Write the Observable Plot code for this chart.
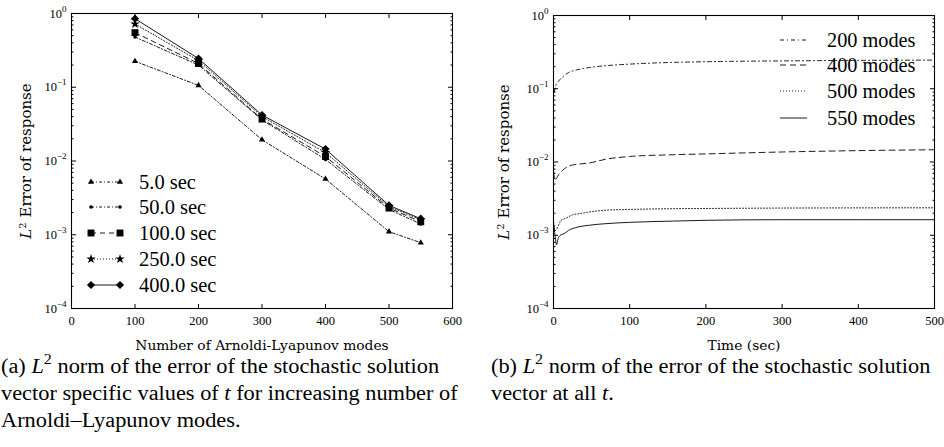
<!DOCTYPE html>
<html><head><meta charset="utf-8">
<script src="https://cdn.jsdelivr.net/npm/d3@7"></script>
<script src="https://cdn.jsdelivr.net/npm/@observablehq/plot@0.6"></script>
<style>
body{margin:0;background:#fff;}
#wrap{position:relative;width:944px;height:447px;overflow:hidden;background:#fff;}
.panel{position:absolute;top:0;}
.row{position:absolute;display:flex;align-items:center;white-space:nowrap;font-family:"Liberation Serif",serif;color:#000;height:24px;}
.cap{position:absolute;font-family:"Liberation Serif",serif;font-size:20.5px;line-height:20px;height:20px;color:#000;white-space:nowrap;transform:scaleX(1.09);transform-origin:left top;}
.cap sup{font-size:0.72em;position:relative;top:-0.1em;line-height:0;vertical-align:super;}
</style></head><body>
<div id="wrap">
  <div id="left" class="panel" style="left:0"></div>
  <div id="right" class="panel" style="left:472px"></div>
  <div id="legA"></div>
  <div id="legB"></div>
  <div class="cap" style="left:1px;top:356px">(a) <i>L</i><sup>2</sup> norm of the error of the stochastic solution</div>
  <div class="cap" style="left:1px;top:383px">vector specific values of <i>t</i> for increasing number of</div>
  <div class="cap" style="left:1px;top:410px">Arnoldi–Lyapunov modes.</div>
  <div class="cap" style="left:491px;top:356px">(b) <i>L</i><sup>2</sup> norm of the error of the stochastic solution</div>
  <div class="cap" style="left:491px;top:383px">vector at all <i>t</i>.</div>
</div>
<script>
// ---------- data: panel (a) ----------
const modes = [100, 200, 300, 400, 500, 550];
const seriesA = ["5.0 sec", "50.0 sec", "100.0 sec", "250.0 sec", "400.0 sec"];
const err5 = [0.225, 0.106, 0.0194, 0.0057, 0.0011, 0.00078];
const err50 = [0.48, 0.20, 0.036, 0.0105, 0.0022, 0.0014];
const err100 = [0.55, 0.21, 0.037, 0.0115, 0.0023, 0.0015];
const err250 = [0.72, 0.23, 0.040, 0.013, 0.0024, 0.0016];
const err400 = [0.85, 0.245, 0.042, 0.0145, 0.0025, 0.00165];
const xTicksA = [0, 100, 200, 300, 400, 500, 600];

// ---------- data: panel (b) ----------
const seriesB = ["200 modes", "400 modes", "500 modes", "550 modes"];
const t200 = [1, 3, 7, 12, 20, 30, 47, 70, 100, 150, 200, 300, 400, 500];
const v200 = [0.09, 0.11, 0.128, 0.145, 0.167, 0.18, 0.195, 0.207, 0.217, 0.228, 0.234, 0.24, 0.244, 0.246];
const t400 = [0, 2, 4, 7, 12, 18, 25, 35, 47, 60, 70, 85, 100, 150, 200, 300, 400, 500];
const v400 = [0.0075, 0.0057, 0.006, 0.0068, 0.0077, 0.0086, 0.0091, 0.0094, 0.0097, 0.0104, 0.011, 0.0115, 0.0119, 0.0125, 0.0129, 0.0137, 0.0143, 0.0147];
const t500 = [0, 2, 4, 7, 10, 16, 25, 34, 50, 69, 100, 150, 200, 300, 500];
const v500 = [0.0015, 0.00115, 0.0012, 0.0014, 0.0016, 0.0017, 0.0019, 0.00197, 0.0021, 0.0022, 0.00225, 0.0023, 0.00232, 0.00235, 0.00237];
const t550 = [0, 2, 4, 6, 9, 14, 20, 29, 47, 69, 100, 156, 200, 300, 500];
const v550 = [0.0015, 0.001, 0.00074, 0.0009, 0.001, 0.00105, 0.00117, 0.00127, 0.00137, 0.00144, 0.0015, 0.00156, 0.0016, 0.00163, 0.00163];
const xTicksB = [0, 100, 200, 300, 400, 500];

const yMajor = [1e-4, 1e-3, 1e-2, 1e-1, 1];

// ---------- styles ----------
const styleA = [
  {vals: err5, symbol: "triangle", r: 2.3, dash: "3,2,1,2"},
  {vals: err50, symbol: "circle", r: 1.8, dash: "3,2,1,2"},
  {vals: err100, symbol: "square", r: 3.9, dash: "5,4"},
  {vals: err250, symbol: "star", r: 3.0, dash: "1,2"},
  {vals: err400, symbol: "diamond2", r: 3.7, dash: null}
];
const styleB = [
  {t: t200, v: v200, dash: "4,3,1,3"},
  {t: t400, v: v400, dash: "6,4"},
  {t: t500, v: v500, dash: "1,2"},
  {t: t550, v: v550, dash: null}
];

const yMinor = [];
for (const d of yMajor.slice(0, 4)) for (let k = 2; k <= 9; k++) yMinor.push(k * d);

const tickFont = "Liberation Serif";
function frameAxes(xTicks, xLabel, yLabelOffset) {
  return [
    Plot.axisX({ticks: xTicks, tickSize: -4, tickPadding: 12, label: xLabel, labelAnchor: "center", labelArrow: "none", labelOffset: 41, fontSize: 12.5}),
    Plot.axisX({anchor: "top", ticks: xTicks, tickSize: -4, tickFormat: () => "", label: null}),
    Plot.axisY({ticks: yMajor, tickSize: -5, tickPadding: 10, fontSize: 12.5,
      tickFormat: d => "10^" + Math.round(Math.log10(d)),
      label: "L2 Error of response", labelAnchor: "center", labelArrow: "none", labelOffset: yLabelOffset}),
    Plot.axisY({ticks: yMinor, tickSize: -2.5, tickFormat: () => "", label: null}),
    Plot.axisY({anchor: "right", ticks: yMajor, tickSize: -5, tickFormat: () => "", label: null}),
    Plot.axisY({anchor: "right", ticks: yMinor, tickSize: -2.5, tickFormat: () => "", label: null}),
    Plot.frame({stroke: "black", strokeWidth: 1.1})
  ];
}

function finish(svg) {
  const s = d3.select(svg);
  s.selectAll('g[aria-label="y-axis tick label"] text').each(function () {
    const txt = this.textContent;
    if (!txt.includes("^")) return;
    const [base, exp] = txt.split("^");
    const t = d3.select(this);
    t.text(null);
    t.append("tspan").text(base);
    t.append("tspan").attr("dy", "-6").attr("font-size", "9").text(exp.replace("-", "−"));
  });
  s.selectAll('g[aria-label="x-axis label"] text').attr("font-family", "DejaVu Serif").attr("font-size", 13.8);
  s.selectAll('g[aria-label="y-axis label"] text').each(function () {
    const t = d3.select(this);
    t.text(null).attr("font-size", 15).attr("font-family", "DejaVu Serif");
    t.append("tspan").attr("font-style", "italic").text("L");
    t.append("tspan").attr("dy", "-5").attr("font-size", "10").text("2");
    t.append("tspan").attr("dy", "5").text(" Error of response");
  });
  return svg;
}

// ---------- panel (a) ----------
const dataA = [];
styleA.forEach((s, i) => s.vals.forEach((v, j) => dataA.push({x: modes[j], y: v, s: seriesA[i]})));
const left = Plot.plot({
  width: 472, height: 356,
  marginLeft: 71, marginRight: 20, marginTop: 13, marginBottom: 48,
  style: {fontFamily: tickFont, fontSize: "12.5px", color: "black", background: "white"},
  x: {domain: [0, 600]},
  y: {type: "log", domain: [1e-4, 1]},
  marks: [
    ...styleA.map((s, i) => Plot.line(dataA.filter(d => d.s === seriesA[i]), {x: "x", y: "y", stroke: "black", strokeWidth: 0.9, strokeDasharray: s.dash})),
    ...styleA.map((s, i) => Plot.dot(dataA.filter(d => d.s === seriesA[i]), {x: "x", y: "y", symbol: () => s.symbol, r: s.r, fill: "black", stroke: "none"})),
    ...frameAxes(xTicksA, "Number of Arnoldi-Lyapunov modes", 51)
  ]
});
document.getElementById("left").appendChild(finish(left));

// ---------- panel (b) ----------
const dataB = [];
styleB.forEach((s, i) => s.t.forEach((t, j) => dataB.push({x: t, y: s.v[j], s: seriesB[i]})));
const right = Plot.plot({
  width: 472, height: 356,
  marginLeft: 81, marginRight: 10, marginTop: 15, marginBottom: 48,
  style: {fontFamily: tickFont, fontSize: "12.5px", color: "black", background: "white"},
  x: {domain: [0, 500]},
  y: {type: "log", domain: [1e-4, 1]},
  marks: [
    ...styleB.map((s, i) => Plot.line(dataB.filter(d => d.s === seriesB[i]), {x: "x", y: "y", stroke: "black", strokeWidth: 0.9, strokeDasharray: s.dash, curve: "monotone-x"})),
    ...frameAxes(xTicksB, "Time (sec)", 55)
  ]
});
document.getElementById("right").appendChild(finish(right));

// ---------- legends ----------
function legendRow(parent, cx0, cx1, cy, textX, label, dash, symbol, r, fontSize) {
  const row = d3.select(parent).append("div").attr("class", "row")
    .style("left", (cx0 - 8) + "px").style("top", (cy - 12) + "px");
  const w = cx1 - cx0 + 16;
  const svg = row.append("svg").attr("width", w).attr("height", 24).style("display", "block");
  svg.append("line").attr("x1", 8).attr("x2", w - 8).attr("y1", 12).attr("y2", 12)
    .attr("stroke", "black").attr("stroke-width", 0.9).attr("stroke-dasharray", dash);
  if (symbol) {
    const sym = {triangle: d3.symbolTriangle, circle: d3.symbolCircle, square: d3.symbolSquare, star: d3.symbolStar, diamond2: d3.symbolDiamond2}[symbol];
    const p = d3.symbol(sym, r * r * Math.PI)();
    [8, w - 8].forEach(x => svg.append("path").attr("d", p).attr("transform", `translate(${x},12)`).attr("fill", "black"));
  }
  row.append("span").text(label).style("font-size", fontSize + "px")
    .style("margin-left", (textX - (cx0 - 8) - w) + "px");
}
const legA = document.getElementById("legA");
const rowYA = [182, 207, 233, 259, 285];
seriesA.forEach((name, i) => legendRow(legA, 91, 120, rowYA[i], 139, name, styleA[i].dash, styleA[i].symbol, styleA[i].r, 20.5));
const legB = document.getElementById("legB");
const rowYB = [40, 65, 91, 118];
seriesB.forEach((name, i) => legendRow(legB, 780, 807, rowYB[i], 827, name, styleB[i].dash, null, 0, 20.3));
</script>
</body></html>
